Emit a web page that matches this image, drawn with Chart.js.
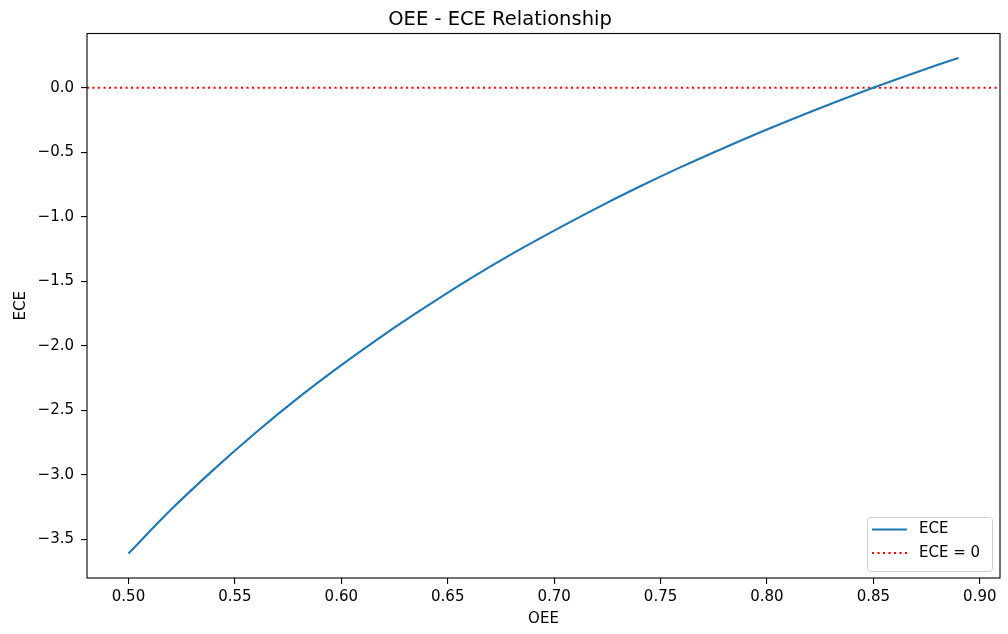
<!DOCTYPE html>
<html>
<head>
<meta charset="utf-8">
<script src="https://cdn.jsdelivr.net/npm/chart.js@4.4.0/dist/chart.umd.min.js"></script>
<style>
    body { margin: 0; background: #fff; }
    #wrap { width: 1008px; height: 634px; }
</style>
</head>
<body>
<div id="wrap"><canvas id="oeeChart" width="1008" height="634"></canvas></div>
<script>
// Values
const oee = [0.50, 0.52, 0.54, 0.56, 0.58, 0.60, 0.62, 0.64, 0.66, 0.68, 0.70,
             0.72, 0.74, 0.76, 0.78, 0.80, 0.82, 0.84, 0.86, 0.88, 0.89];
const ece = [-3.610, -3.270, -2.960, -2.670, -2.400, -2.150, -1.915, -1.695, -1.485, -1.290, -1.108,
             -0.933, -0.768, -0.612, -0.465, -0.324, -0.190, -0.062, 0.059, 0.175, 0.231];
const refLevel = [0, 0];
const xRange = [0.4805, 0.9095];
const yRange = [-3.80, 0.42];

const FONT = "'DejaVu Sans', sans-serif";

// Frame around the plot area (matplotlib spines)
const spines = {
    id: 'spines',
    afterDatasetsDraw(chart) {
        const { ctx, chartArea: a } = chart;
        ctx.save();
        ctx.strokeStyle = '#000';
        ctx.lineWidth = 1.1;
        ctx.strokeRect(a.left, a.top, a.right - a.left, a.bottom - a.top);
        ctx.restore();
    }
};

// Legend in the lower right corner, inside the axes
const innerLegend = {
    id: 'innerLegend',
    afterDraw(chart) {
        const { ctx, chartArea: a } = chart;
        const w = 125, h = 54;
        const x = a.right - 8 - w, y = a.bottom - 7 - h;
        ctx.save();
        ctx.fillStyle = 'rgba(255,255,255,0.8)';
        ctx.strokeStyle = '#d0d0d0';
        ctx.lineWidth = 1;
        ctx.beginPath();
        ctx.roundRect(x + 0.5, y + 0.5, w, h, 3);
        ctx.fill();
        ctx.stroke();
        ctx.font = '15px ' + FONT;
        ctx.textBaseline = 'middle';
        chart.data.datasets.forEach((ds, i) => {
            const ly = y + 12.5 + i * 23.5;
            ctx.beginPath();
            ctx.strokeStyle = ds.borderColor;
            ctx.lineWidth = ds.borderWidth;
            ctx.setLineDash(ds.borderDash || []);
            ctx.moveTo(x + 5, ly);
            ctx.lineTo(x + 40, ly);
            ctx.stroke();
            ctx.setLineDash([]);
            ctx.fillStyle = '#000';
            ctx.fillText(ds.label, x + 52, ly);
        });
        ctx.restore();
    }
};

const fmtMinus = (v, d) => {
    const s = Math.abs(v).toFixed(d);
    return (v < -1e-9 ? '\u2212' : '') + s;
};

new Chart(document.getElementById('oeeChart'), {
    type: 'line',
    data: {
        datasets: [
            {
                label: 'ECE',
                data: oee.map((x, i) => ({ x: x, y: ece[i] })),
                borderColor: '#1f77b4',
                borderWidth: 2.1,
                pointRadius: 0,
                cubicInterpolationMode: 'monotone'
            },
            {
                label: 'ECE = 0',
                data: xRange.map((x, i) => ({ x: x, y: refLevel[i] })),
                borderColor: '#ff0000',
                borderWidth: 2.1,
                borderDash: [2.1, 3.4],
                pointRadius: 0
            }
        ]
    },
    options: {
        responsive: false,
        animation: false,
        layout: { padding: { left: 0, right: 8, top: 0, bottom: 0 } },
        plugins: {
            legend: { display: false },
            tooltip: { enabled: false },
            title: {
                display: true,
                text: 'OEE - ECE Relationship',
                color: '#000',
                font: { family: FONT, size: 19.5, weight: 'normal', lineHeight: 1.2 },
                padding: { top: 8, bottom: 2.1 }
            }
        },
        scales: {
            x: {
                type: 'linear',
                min: xRange[0],
                max: xRange[1],
                afterFit(scale) { scale.height = 56; },
                border: { display: false },
                grid: { drawOnChartArea: false, drawTicks: true, tickLength: 6, color: '#000', lineWidth: 1.1 },
                ticks: {
                    stepSize: 0.05,
                    includeBounds: false,
                    padding: 4,
                    color: '#000',
                    font: { family: FONT, size: 15 },
                    callback: v => fmtMinus(v, 2)
                },
                title: {
                    display: true,
                    text: 'OEE',
                    color: '#000',
                    font: { family: FONT, size: 15, lineHeight: 1.2 },
                    padding: { top: 0, bottom: 6 }
                }
            },
            y: {
                type: 'linear',
                min: yRange[0],
                max: yRange[1],
                afterFit(scale) { scale.width = 87; },
                border: { display: false },
                grid: { drawOnChartArea: false, drawTicks: true, tickLength: 6, color: '#000', lineWidth: 1.1 },
                ticks: {
                    stepSize: 0.5,
                    includeBounds: false,
                    padding: 7,
                    color: '#000',
                    font: { family: FONT, size: 15 },
                    callback: v => fmtMinus(v, 1)
                },
                title: {
                    display: true,
                    text: 'ECE',
                    color: '#000',
                    font: { family: FONT, size: 15, lineHeight: 1.2 },
                    padding: { top: 12, bottom: 0 }
                }
            }
        }
    },
    plugins: [spines, innerLegend]
});
</script>
</body>
</html>
